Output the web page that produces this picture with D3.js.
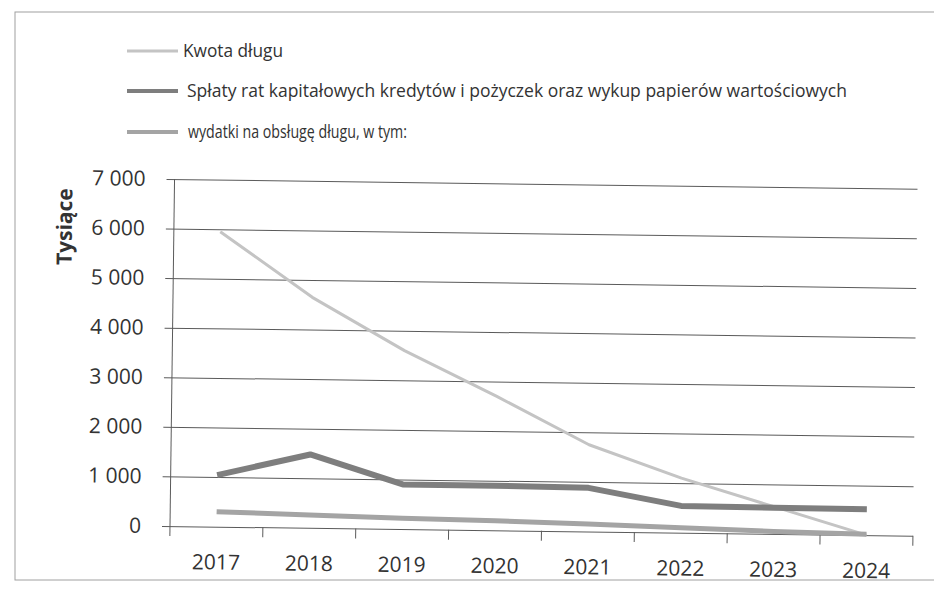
<!DOCTYPE html>
<html>
<head>
<meta charset="utf-8">
<script src="https://cdn.jsdelivr.net/npm/d3@7"></script>
<style>
  body { margin: 0; background: #fff; }
  text { font-family: "Open Sans", sans-serif; }
</style>
</head>
<body>
<div id="chart"></div>
<script>
// data (thousands)
const years = ["2017", "2018", "2019", "2020", "2021", "2022", "2023", "2024"];
const kwotaDlugu = [5950, 4650, 3600, 2700, 1750, 1100, 550, 0];
const splatyRat = [1040, 1480, 900, 900, 880, 540, 530, 520];
const wydatki = [300, 260, 220, 190, 150, 100, 50, 20];
const yTicks = [0, 1000, 2000, 3000, 4000, 5000, 6000, 7000];

const seriesNames = [
  "Kwota długu",
  "Spłaty rat kapitałowych kredytów i pożyczek oraz wykup papierów wartościowych",
  "wydatki na obsługę długu, w tym:"
];
const seriesValues = [kwotaDlugu, splatyRat, wydatki];
const seriesColors = ["#c4c4c4", "#7e7e7e", "#a4a4a4"];
const seriesWidths = [3, 6, 5];

const W = 934, H = 597;
const plot = {left: 170, right: 913, top: 179, bottom: 526};

const svg = d3.select("#chart")
  .append("svg")
    .attr("width", W)
    .attr("height", H);

// scan frame
svg.append("rect")
  .attr("x", 15).attr("y", 12)
  .attr("width", 940).attr("height", 568)
  .attr("fill", "none")
  .attr("stroke", "#a0a0a0")
  .attr("stroke-width", 1);

// legend
const legend = [
  {y: 57, tx: 183, len: 100},
  {y: 97, tx: 187, len: 660},
  {y: 138, tx: 188, len: 219}
];
legend.forEach((l, i) => {
  svg.append("line")
    .attr("x1", 127).attr("x2", 178)
    .attr("y1", l.y - 6).attr("y2", l.y - 6)
    .attr("stroke", seriesColors[i])
    .attr("stroke-width", i === 0 ? 3 : 4);
  svg.append("text")
    .attr("x", l.tx)
    .attr("y", l.y)
    .attr("font-size", 18)
    .attr("fill", "#333")
    .attr("textLength", l.len)
    .attr("lengthAdjust", "spacingAndGlyphs")
    .text(seriesNames[i]);
});

// the scan is slightly rotated
const g = svg.append("g")
  .attr("transform", `rotate(0.75, ${plot.left}, ${plot.bottom})`);

const x = d3.scaleBand()
  .domain(years)
  .range([plot.left, plot.right]);

const y = d3.scaleLinear()
  .domain([0, 7000])
  .range([plot.bottom, plot.top]);

const fmt = d3.formatLocale({decimal: ",", thousands: " ", grouping: [3], currency: ["", " zł"]}).format(",d");

// gridlines + y labels
const yAxis = g.append("g")
  .attr("transform", `translate(${plot.left - 8},0)`)
  .call(d3.axisLeft(y)
    .tickValues(yTicks)
    .tickFormat(fmt)
    .tickSizeInner(-(plot.right - plot.left + 8))
    .tickSizeOuter(0)
    .tickPadding(21));
yAxis.select(".domain").remove();
yAxis.selectAll(".tick line")
  .attr("stroke", "#5a5a5a")
  .attr("stroke-width", 1);
yAxis.selectAll(".tick text")
  .attr("font-size", 21)
  .attr("fill", "#333")
  .attr("font-family", "Open Sans, sans-serif");

// y axis line
g.append("line")
  .attr("x1", plot.left).attr("x2", plot.left)
  .attr("y1", plot.top).attr("y2", plot.bottom + 10)
  .attr("stroke", "#5a5a5a");

// x labels
const xAxis = g.append("g")
  .attr("transform", `translate(0,${plot.bottom})`)
  .call(d3.axisBottom(x).tickSize(0).tickPadding(28));
xAxis.select(".domain").remove();
xAxis.selectAll(".tick text")
  .attr("font-size", 21)
  .attr("fill", "#333")
  .attr("font-family", "Open Sans, sans-serif");

// category boundary ticks
const edges = years.map(d => x(d)).concat([x(years[years.length - 1]) + x.bandwidth()]).slice(1);
g.selectAll("line.xtick")
  .data(edges)
  .join("line")
    .attr("class", "xtick")
    .attr("x1", d => d).attr("x2", d => d)
    .attr("y1", plot.bottom).attr("y2", plot.bottom + 10)
    .attr("stroke", "#5a5a5a");

// y title
g.append("text")
  .attr("transform", `translate(68,228) rotate(-90)`)
  .attr("text-anchor", "middle")
  .attr("font-size", 21)
  .attr("font-weight", "bold")
  .attr("fill", "#333")
  .text("Tysiące");

// lines
const line = d3.line()
  .x((d, i) => x(years[i]) + x.bandwidth() / 2)
  .y(d => y(d));

seriesValues.forEach((vals, i) => {
  g.append("path")
    .datum(vals)
    .attr("fill", "none")
    .attr("stroke", seriesColors[i])
    .attr("stroke-width", seriesWidths[i])
    .attr("stroke-linejoin", "round")
    .attr("d", line);
});
</script>
</body>
</html>
